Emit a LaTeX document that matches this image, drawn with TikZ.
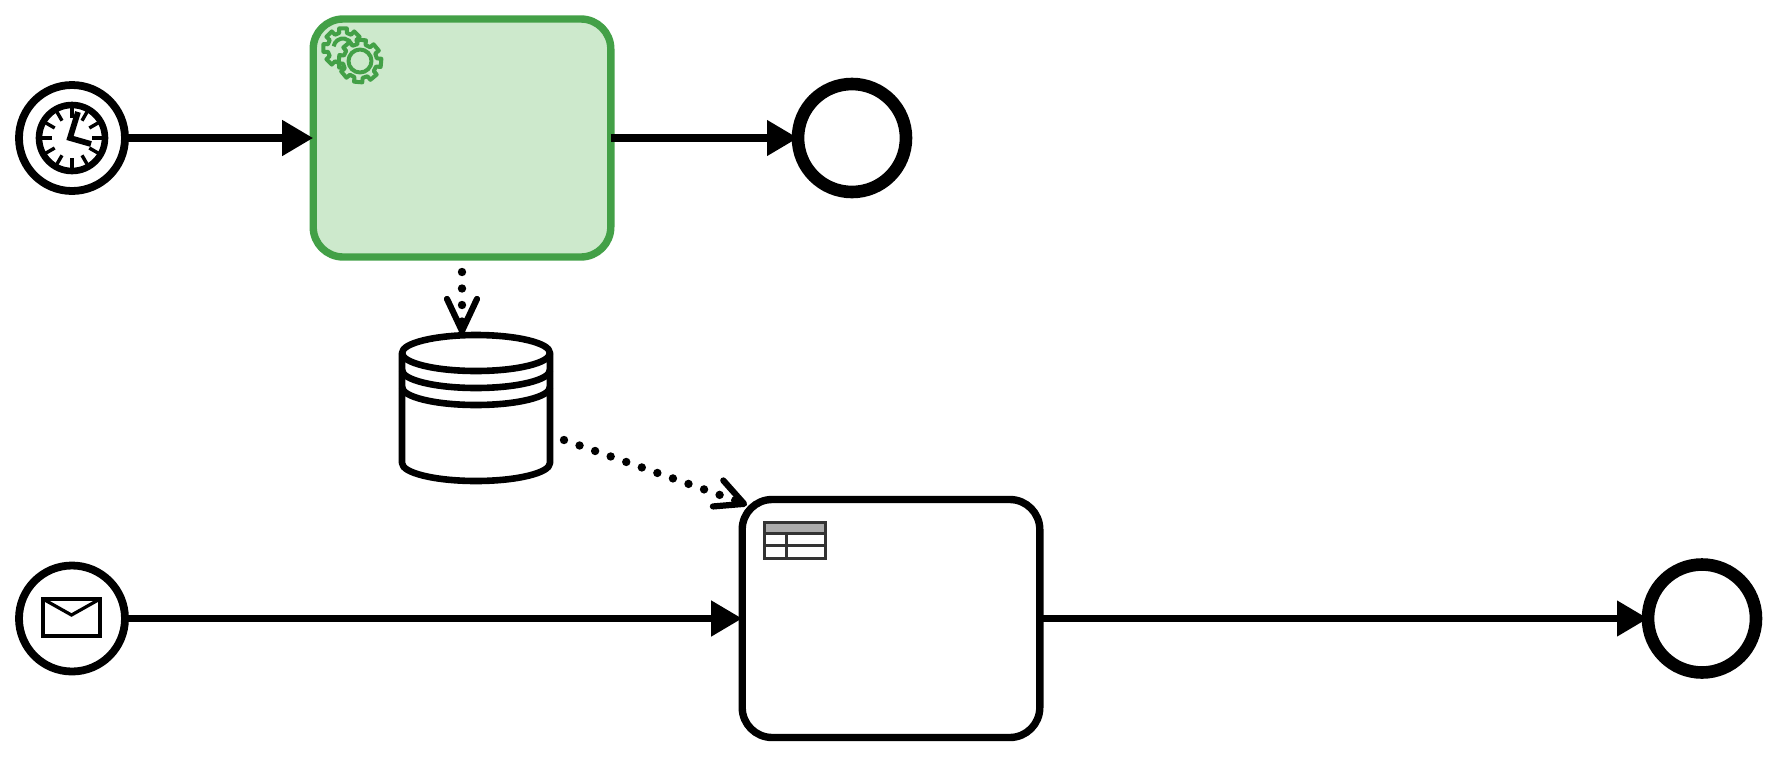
\documentclass[tikz,border=0pt]{standalone}
\usetikzlibrary{arrows.meta,calc}
\definecolor{taskgreen}{HTML}{43A047}
\definecolor{taskfill}{HTML}{CDE9CC}
\definecolor{headgray}{HTML}{ABABAB}
\newcommand{\gearpath}[4]{% centre, outer radius, root radius, rotation
  \draw[gearline] (#1)++(#4-11:#2)
  \foreach \k in {0,45,...,315}{
    -- ($(#1)+(#4+\k-11:#2)$) -- ($(#1)+(#4+\k+11:#2)$) -- ($(#1)+(#4+\k+14:#3)$) -- ($(#1)+(#4+\k+31:#3)$)
  } -- cycle;
}
\tikzset{
  x=0.5pt,y=-0.5pt,
  flowline/.style={line width=3.7pt,-{Triangle[length=15.5pt,width=17pt]}},
  assoc/.style={line width=4.2pt,line cap=round,dash pattern=on 0pt off 8.25pt,
    -{Straight Barb[length=16pt,width=15pt,line width=3.1pt,round]}},
  assocshort/.style={assoc,-{Straight Barb[length=14pt,width=14pt,line width=3.1pt,round]}},
  startev/.style={circle,draw,line width=3.9pt,minimum size=53pt,inner sep=0pt,outer sep=0pt},
  endev/.style={circle,draw,line width=6.3pt,minimum size=54pt,inner sep=0pt,outer sep=0pt},
  taskbox/.style={rectangle,draw,line width=3.7pt,rounded corners=15pt,minimum width=148.8pt,minimum height=119pt,inner sep=0pt,outer sep=0pt},
  timerring/.style={circle,draw,line width=3.3pt,minimum size=33pt,inner sep=0pt,outer sep=0pt},
  tick/.style={line width=1.7pt},
  hand/.style={line width=2.9pt},
  gearline/.style={draw=taskgreen,fill=taskfill,line width=2pt,line join=round},
  storeline/.style={draw=black,line width=3.3pt,line join=round},
  tableline/.style={draw=black!80,line width=1.5pt},
}
\begin{document}
\begin{tikzpicture}
\useasboundingbox (0,0) rectangle (1773,756);
\fill[white] (0,0) rectangle (1773,756);

% events and tasks
\node[startev] (start1) at (72,138) {};
\node[taskbox,draw=taskgreen,fill=taskfill] (task1) at (462,138) {};
\node[endev] (end1) at (852,138) {};
\node[startev] (start2) at (72,618.5) {};
\node[taskbox,fill=white] (task2) at (891,618.5) {};
\node[endev] (end2) at (1702,618.5) {};

% sequence flows
\draw[flowline] (start1) -- (task1);
\draw[flowline] (task1) -- (end1);
\draw[flowline] (start2) -- (task2);
\draw[flowline] (task2) -- (end2);

% timer icon
\node[timerring] (clock) at (72,138) {};
\foreach \a in {0,30,...,330}{
  \draw[tick] ($(clock.center)+(\a:20)$) -- ($(clock.center)+(\a:31)$);
}
\coordinate (hub) at (70,138);
\draw[hand] (78,112) -- (hub) -- (91,144);

% service icon
\coordinate (gearA) at (343,48);
\coordinate (gearB) at (360,61);
\gearpath{gearA}{20}{15.5}{0}
\draw[taskgreen,line width=2pt] ($(gearA)+(190:9.5)$) arc[start angle=190,end angle=340,radius=9.5];
\draw[taskgreen,line width=2.2pt] (342,66) -- (343,70);
\gearpath{gearB}{21.5}{17}{5}
\draw[gearline] (gearB) circle[radius=11.5];

% data store
\coordinate (storeTop) at (462,334);
\coordinate (storeOut) at (564,440);
\path[storeline,fill=white] (402,353) arc[start angle=180,end angle=360,x radius=74,y radius=18]
  -- (550,463) arc[start angle=0,end angle=180,x radius=74,y radius=18] -- cycle;
\draw[storeline] (402,353) arc[start angle=180,end angle=0,x radius=74,y radius=18];
\draw[storeline] (402,370) arc[start angle=180,end angle=0,x radius=74,y radius=18];
\draw[storeline] (402,387) arc[start angle=180,end angle=0,x radius=74,y radius=18];

% data associations
\coordinate (assocStart) at (462,272);
\draw[assoc] (assocStart) -- (storeTop);
\coordinate (bend) at (737,501);
\coordinate (corner) at (747,505);
\draw[assocshort] (storeOut) -- (bend) -- (corner);

% envelope icon
\draw[line width=1.6pt] (43,599) rectangle (100,636);
\draw[line width=1.6pt] (43,599) -- (71.5,615) -- (100,599);

% table icon
\fill[headgray] (764,522) rectangle (825,533);
\draw[tableline] (764,522) rectangle (825,558);
\draw[tableline] (764,533) -- (825,533);
\draw[tableline] (764,545) -- (825,545);
\draw[tableline] (786,533) -- (786,558);
\end{tikzpicture}
\end{document}
